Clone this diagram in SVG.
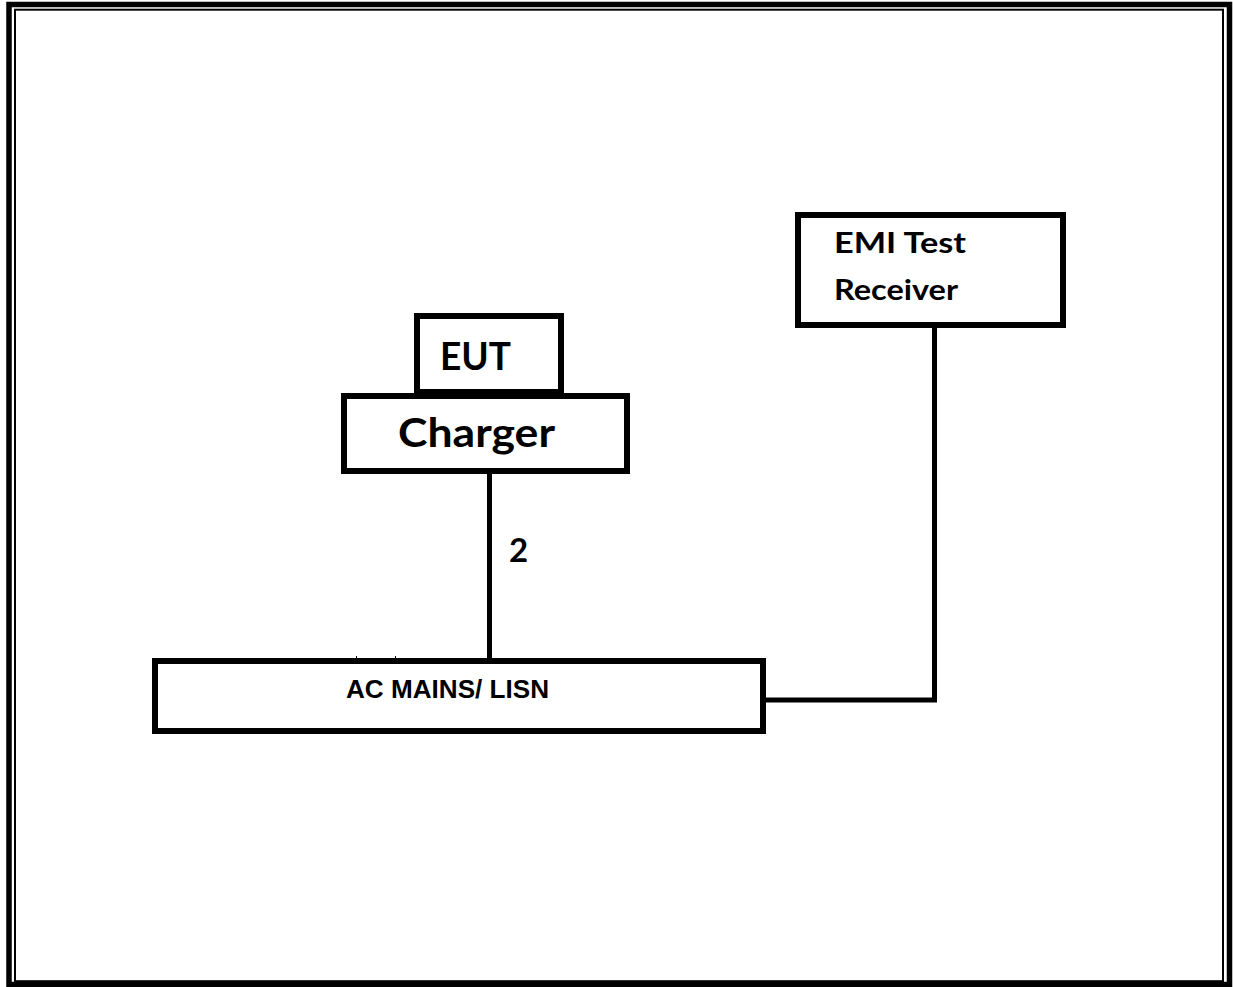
<svg xmlns="http://www.w3.org/2000/svg" width="1233" height="987" viewBox="0 0 1233 987">
<style>
.box{fill:#fff;stroke:#000;stroke-width:6}
.wire{fill:none;stroke:#000;stroke-width:5}
.lbl{font-family:Lato,"Open Sans",sans-serif;font-weight:bold;fill:#000}
.lisn{font-family:"Liberation Sans",Arial,sans-serif;font-weight:bold;fill:#000}
</style>
<rect x="0" y="0" width="1233" height="987" fill="#fff"/>
<g id="frame">
<rect x="9" y="4.5" width="1220.5" height="980" fill="none" stroke="#000" stroke-width="5.5"/>
<rect x="15" y="9.7" width="1208" height="971.5" fill="none" stroke="#000" stroke-width="2"/>
</g>
<g id="connectors">
<line class="wire" x1="489.5" y1="472" x2="489.5" y2="663"/>
<polyline class="wire" points="934.5,326 934.5,700 765,700"/>
</g>
<g id="eut">
<rect class="box" x="417" y="316" width="144" height="76"/>
<text class="lbl" x="440" y="370" font-size="39" textLength="71" lengthAdjust="spacingAndGlyphs">EUT</text>
</g>
<g id="charger">
<rect class="box" x="344" y="396" width="283" height="75"/>
<text class="lbl" x="398" y="447" font-size="41" textLength="157" lengthAdjust="spacingAndGlyphs">Charger</text>
</g>
<g id="emi">
<rect class="box" x="798" y="215" width="265" height="110"/>
<text class="lbl" x="834" y="253" font-size="29" textLength="132" lengthAdjust="spacingAndGlyphs">EMI Test</text>
<text class="lbl" x="834" y="300" font-size="29" textLength="124" lengthAdjust="spacingAndGlyphs">Receiver</text>
</g>
<g id="lisn">
<rect class="box" x="155" y="661" width="608" height="70" stroke-width="5"/>
<line x1="356.5" y1="656" x2="356.5" y2="661" stroke="#000" stroke-width="1"/>
<line x1="395.5" y1="656" x2="395.5" y2="661" stroke="#000" stroke-width="1"/>
<text class="lisn" x="346" y="698" font-size="26" textLength="203" lengthAdjust="spacingAndGlyphs">AC MAINS/ LISN</text>
</g>
<g id="label2">
<text class="lbl" x="509" y="562" font-size="33">2</text>
</g>
</svg>
